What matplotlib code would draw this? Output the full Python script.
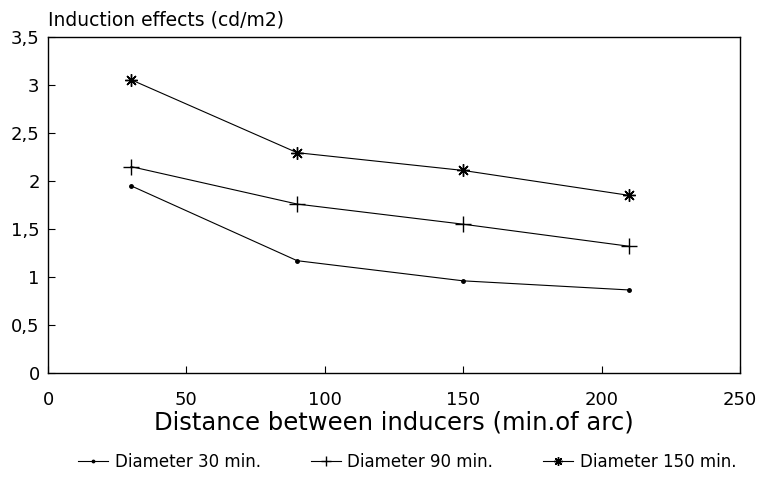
import matplotlib

matplotlib.use("Agg")
import matplotlib.pyplot as plt
from matplotlib.ticker import FuncFormatter

plt.rcParams["font.family"] = ["DejaVu Sans"]

distance = [30, 90, 150, 210]
diam_30 = [1.95, 1.17, 0.96, 0.865]
diam_90 = [2.15, 1.76, 1.55, 1.32]
diam_150 = [3.055, 2.295, 2.11, 1.85]
labels = ["Diameter 30 min.", "Diameter 90 min.", "Diameter 150 min."]
x_ticks = [0, 50, 100, 150, 200, 250]
y_ticks = [0, 0.5, 1, 1.5, 2, 2.5, 3, 3.5]

fig = plt.figure(figsize=(7.61, 4.8), dpi=100)
ax = fig.add_axes([0.0631, 0.2229, 0.9093, 0.70])

lw = 0.8
ax.plot(distance, diam_30, color="black", lw=lw, marker="o", ms=2.5, label=labels[0])
ax.plot(distance, diam_90, color="black", lw=lw, marker="+", ms=11, mew=1.0, label=labels[1])
ax.plot(distance, diam_150, color="black", lw=lw, marker=(8, 2, 0), ms=9, mew=1.0, label=labels[2])

ax.set_xlim(0, 250)
ax.set_ylim(0, 3.5)
ax.set_xticks(x_ticks)
ax.set_yticks(y_ticks)


def comma(v, pos):
    s = f"{v:g}"
    return s.replace(".", ",")


ax.yaxis.set_major_formatter(FuncFormatter(comma))
ax.tick_params(direction="in", length=5, width=0.8, labelsize=13, colors="black")
ax.tick_params(axis="x", pad=13)
ax.tick_params(axis="y", pad=6)
for sp in ax.spines.values():
    sp.set_linewidth(1.0)

ax.set_xlabel("Distance between inducers (min.of arc)", fontsize=17.5, labelpad=1)
fig.text(0.063, 0.958, "Induction effects (cd/m2)", fontsize=13.5, ha="left", va="center")

fig.legend(loc="center", bbox_to_anchor=(0.535, 0.038), ncol=3, frameon=False,
           fontsize=12, handlelength=1.8, handletextpad=0.4, columnspacing=3.0,
           markerscale=0.7)

fig.savefig("out.png", dpi=100)
